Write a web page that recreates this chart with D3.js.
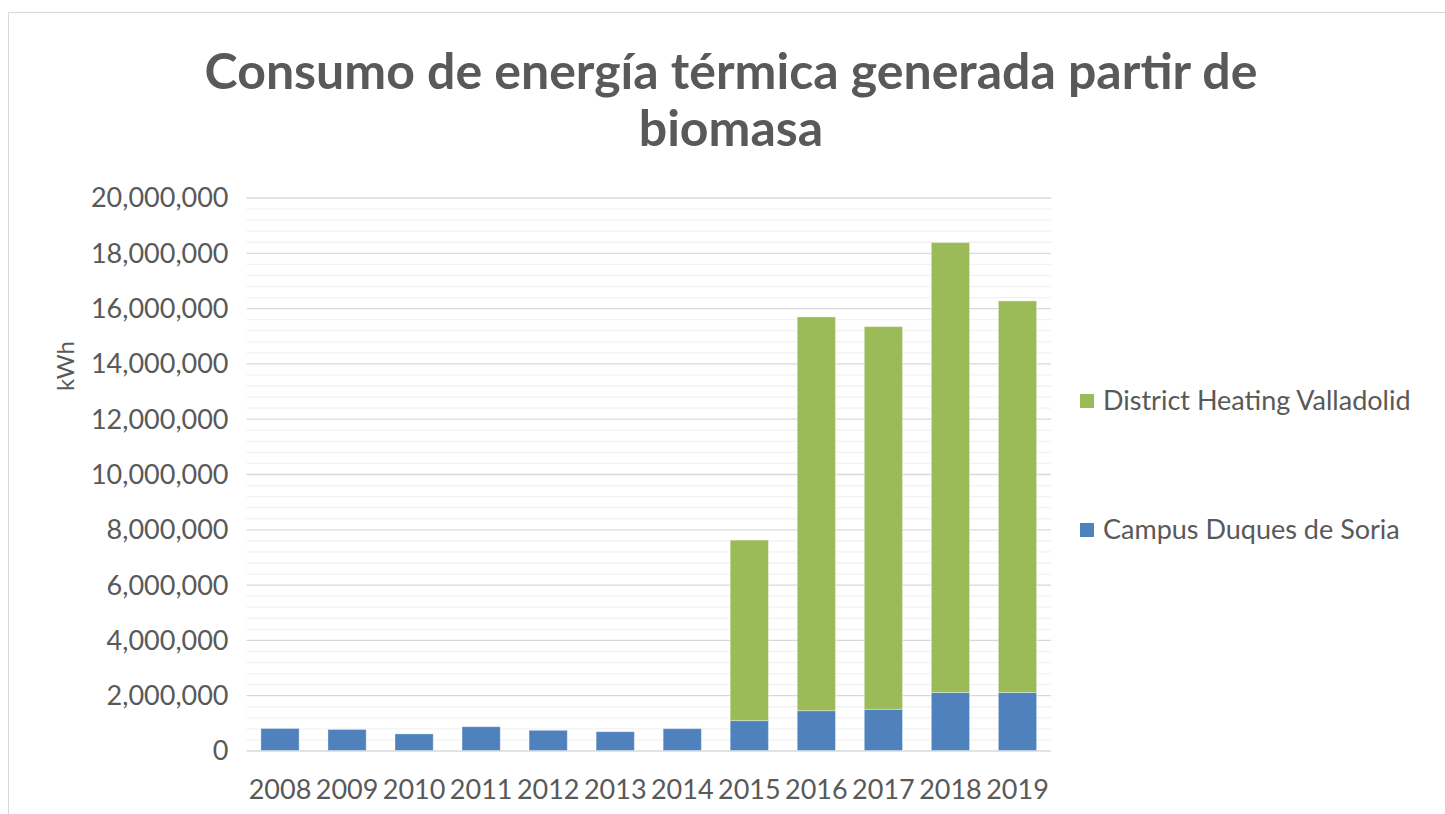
<!DOCTYPE html>
<html>
<head>
<meta charset="utf-8">
<script src="https://cdn.jsdelivr.net/npm/d3@7"></script>
<style>
  html, body { margin: 0; padding: 0; background: #fff; }
  svg { display: block; }
  text { font-family: Lato, "Open Sans", sans-serif; fill: #595959; }
</style>
</head>
<body>
<svg id="chart" width="1445" height="814"></svg>
<script>
// ---- data ----
const years = ["2008","2009","2010","2011","2012","2013","2014","2015","2016","2017","2018","2019"];
const campusDuques = [795000, 760000, 600000, 860000, 730000, 680000, 790000, 1080000, 1440000, 1490000, 2100000, 2100000];
const districtHeating = [0, 0, 0, 0, 0, 0, 0, 6530000, 14240000, 13840000, 16270000, 14160000];
const seriesNames = ["Campus Duques de Soria", "District Heating Valladolid"];
const seriesColors = ["#4F81BD", "#9BBB59"];
const yTicks = [0, 2000000, 4000000, 6000000, 8000000, 10000000, 12000000, 14000000, 16000000, 18000000, 20000000];
const titleLines = ["Consumo de energía térmica generada partir de", "biomasa"];
const yAxisTitle = "kWh";

const svg = d3.select("#chart");

// chart border
svg.append("rect").attr("x", 8.5).attr("y", 12.5).attr("width", 1460).attr("height", 820)
  .attr("fill", "none").attr("stroke", "#d9d9d9").attr("stroke-width", 1);

const plot = {left: 246.5, right: 1051, top: 197.5, bottom: 750.5};

const x = d3.scaleBand().domain(years).range([plot.left, plot.right])
  .paddingInner(0.43).paddingOuter(0.215);
const y = d3.scaleLinear().domain([0, 20000000]).range([plot.bottom, plot.top]);

// minor grid
const minorTicks = d3.range(0, 20000001, 400000).filter(v => v % 2000000 !== 0);
svg.append("g").attr("transform", `translate(${plot.left},0)`)
  .call(d3.axisLeft(y).tickValues(minorTicks).tickSize(-(plot.right - plot.left)).tickFormat(""))
  .call(g => g.select(".domain").remove())
  .call(g => g.selectAll("line").attr("stroke", "#f2f2f2").attr("stroke-width", 1.3));

// major grid
svg.append("g").attr("transform", `translate(${plot.left},0)`)
  .call(d3.axisLeft(y).tickValues(yTicks).tickSize(-(plot.right - plot.left)).tickFormat(""))
  .call(g => g.select(".domain").remove())
  .call(g => g.selectAll("line").attr("stroke", "#d9d9d9").attr("stroke-width", 1.3));

// stacked data
const table = years.map((yr, i) => ({year: yr, campus: campusDuques[i], district: districtHeating[i]}));
const stack = d3.stack().keys(["campus", "district"])(table);

svg.append("g").selectAll("g").data(stack).join("g")
  .attr("fill", (d, i) => seriesColors[i])
  .selectAll("rect").data(d => d.filter(p => p[1] - p[0] > 0)).join("rect")
  .attr("x", d => x(d.data.year))
  .attr("width", x.bandwidth())
  .attr("y", d => y(d[1]))
  .attr("height", d => y(d[0]) - y(d[1]))
  .attr("stroke", "#ffffff").attr("stroke-opacity", 0.35).attr("stroke-width", 1);

// y axis labels
svg.append("g").attr("transform", `translate(${plot.left - 18},0)`)
  .call(d3.axisLeft(y).tickValues(yTicks).tickSize(0).tickPadding(0).tickFormat(d3.format(",")))
  .call(g => g.select(".domain").remove())
  .call(g => g.selectAll("text").attr("font-size", 27).attr("fill", "#595959")
     .attr("font-family", "Lato, sans-serif").attr("dy", "0.35em"));

// x axis labels
svg.append("g").attr("transform", `translate(0,${plot.bottom + 29})`)
  .call(d3.axisBottom(x).tickSize(0).tickPadding(0))
  .call(g => g.select(".domain").remove())
  .call(g => g.selectAll("text").attr("font-size", 27).attr("fill", "#595959")
     .attr("font-family", "Lato, sans-serif").attr("dy", "0.71em"));

// y axis title
svg.append("text")
  .attr("transform", "translate(74,366) rotate(-90)")
  .attr("text-anchor", "middle")
  .attr("font-size", 24)
  .text(yAxisTitle);

// title
svg.append("g").selectAll("text").data(titleLines).join("text")
  .attr("x", 731).attr("y", (d, i) => 89 + i * 57)
  .attr("text-anchor", "middle")
  .attr("font-size", 50).attr("font-weight", "bold")
  .text(d => d);

// legend
const legendItems = [{name: seriesNames[1], color: seriesColors[1], y: 401},
                     {name: seriesNames[0], color: seriesColors[0], y: 530}];
const lg = svg.append("g").selectAll("g").data(legendItems).join("g")
  .attr("transform", d => `translate(1080,${d.y})`);
lg.append("rect").attr("x", 0).attr("y", -7).attr("width", 14).attr("height", 14).attr("fill", d => d.color);
lg.append("text").attr("x", 23).attr("y", 0).attr("dy", "0.35em")
  .attr("font-size", 27).text(d => d.name);
</script>
</body>
</html>
